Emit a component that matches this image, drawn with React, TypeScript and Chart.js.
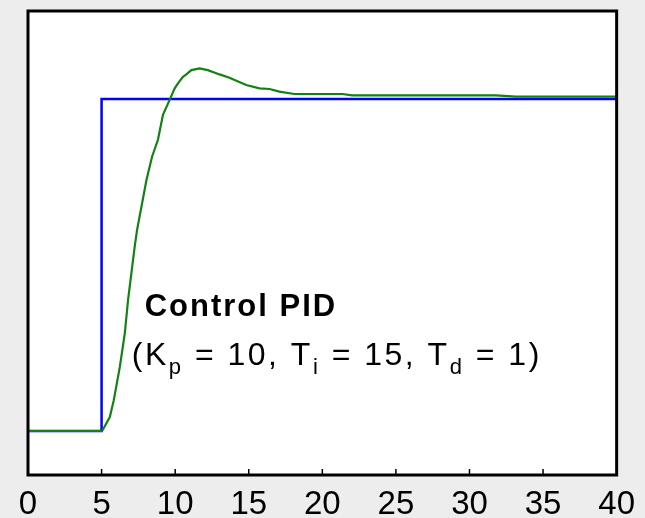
import React, { useEffect, useRef } from "react";
import { Chart, registerables } from "chart.js";

Chart.register(...registerables);

// Time axis (s) and the two responses
const xTicks = [0, 5, 10, 15, 20, 25, 30, 35, 40];

const setpointT = [0, 5, 5, 40];
const setpointV = [0, 0, 1, 1];

const outputT = [
  0, 5, 5.04, 5.56, 5.83, 6.24, 6.58, 6.8, 7.25, 7.41, 8.05, 8.43, 8.83, 9.17,
  9.67, 9.97, 10.19, 10.53, 10.76, 11.1, 11.66, 12.22, 13.02, 13.69, 14.83,
  15.73, 16.41, 17.08, 18.1, 21.36, 22.03, 31.8, 33.15, 40,
];
const outputV = [
  0, 0, 0, 0.042, 0.093, 0.193, 0.295, 0.395, 0.555, 0.605, 0.756, 0.826,
  0.877, 0.952, 1.002, 1.032, 1.047, 1.067, 1.074, 1.087, 1.092, 1.087, 1.074,
  1.064, 1.042, 1.032, 1.03, 1.022, 1.015, 1.015, 1.011, 1.011, 1.007, 1.007,
];

const titleText = "Control PID";
// caption pieces: [text, isSubscript]
const captionParts: [string, boolean][] = [
  ["(K", false],
  ["p", true],
  [" = 10, T", false],
  ["i", true],
  [" = 15, T", false],
  ["d", true],
  [" = 1)", false],
];
const titleAnchor = { x: 7.93, y: 0.345 };
const captionAnchor = { x: 7.05, y: 0.2 };

const FONT = '"Liberation Sans", Arial, Helvetica, sans-serif';

const framePlugin = {
  id: "frame",
  afterDraw(chart: any) {
    const { ctx, chartArea, scales } = chart;
    const xs = scales.x;
    const ys = scales.y;
    ctx.save();
    // inward tick marks on the bottom edge
    ctx.strokeStyle = "#000";
    ctx.lineWidth = 1.5;
    xTicks.slice(1, -1).forEach((v) => {
      const px = xs.getPixelForValue(v);
      ctx.beginPath();
      ctx.moveTo(px, chartArea.bottom);
      ctx.lineTo(px, chartArea.bottom - 6);
      ctx.stroke();
    });
    // frame
    ctx.lineWidth = 3;
    ctx.strokeRect(
      chartArea.left,
      chartArea.top,
      chartArea.right - chartArea.left,
      chartArea.bottom - chartArea.top
    );

    // annotation
    ctx.fillStyle = "#000";
    ctx.textBaseline = "alphabetic";
    ctx.textAlign = "left";
    (ctx as any).letterSpacing = "2px";
    ctx.font = `bold 31px ${FONT}`;
    ctx.fillText(
      titleText,
      xs.getPixelForValue(titleAnchor.x),
      ys.getPixelForValue(titleAnchor.y)
    );

    (ctx as any).letterSpacing = "2.5px";
    let cx = xs.getPixelForValue(captionAnchor.x);
    const cy = ys.getPixelForValue(captionAnchor.y);
    captionParts.forEach(([t, sub]) => {
      ctx.font = sub ? `22px ${FONT}` : `32px ${FONT}`;
      ctx.fillText(t, cx, sub ? cy + 9 : cy);
      cx += ctx.measureText(t).width;
    });
    ctx.restore();
  },
};

export default function App() {
  const canvasRef = useRef<HTMLCanvasElement | null>(null);

  useEffect(() => {
    document.body.style.margin = "0";
    document.body.style.background = "#ededed";
    const canvas = canvasRef.current;
    if (!canvas) return;
    const chart = new Chart(canvas, {
      type: "line",
      data: {
        datasets: [
          {
            label: "Consigna",
            data: setpointT.map((t, i) => ({ x: t, y: setpointV[i] })),
            borderColor: "#0000ff",
            borderWidth: 2.5,
            pointRadius: 0,
            tension: 0,
            order: 2,
          },
          {
            label: "Salida",
            data: outputT.map((t, i) => ({ x: t, y: outputV[i] })),
            borderColor: "#128212",
            borderWidth: 2.2,
            pointRadius: 0,
            tension: 0,
            order: 1,
          },
        ],
      },
      options: {
        animation: false,
        responsive: false,
        layout: { padding: { left: 28, right: 27, top: 11, bottom: 0 } },
        plugins: {
          legend: { display: false },
          tooltip: { enabled: false },
        },
        scales: {
          x: {
            type: "linear",
            min: 0,
            max: 40,
            afterBuildTicks: (scale: any) => {
              scale.ticks = xTicks.map((v) => ({ value: v }));
            },
            afterFit: (scale: any) => {
              scale.height = 43;
            },
            border: { display: false },
            grid: { display: false, drawTicks: false },
            ticks: {
              autoSkip: false,
              maxRotation: 0,
              padding: 10,
              color: "#000",
              font: { family: FONT, size: 33 },
            },
          },
          y: {
            type: "linear",
            min: -0.1325,
            max: 1.265,
            display: false,
          },
        },
      },
      plugins: [
        {
          id: "plotBg",
          beforeDraw(c: any) {
            const { ctx, chartArea } = c;
            ctx.save();
            ctx.fillStyle = "#ffffff";
            ctx.fillRect(
              chartArea.left,
              chartArea.top,
              chartArea.right - chartArea.left,
              chartArea.bottom - chartArea.top
            );
            ctx.restore();
          },
        },
        framePlugin,
      ],
    });
    return () => chart.destroy();
  }, []);

  return (
    <div style={{ width: 645, height: 518, background: "#ededed" }}>
      <canvas ref={canvasRef} width={645} height={518} style={{ display: "block" }} />
    </div>
  );
}
